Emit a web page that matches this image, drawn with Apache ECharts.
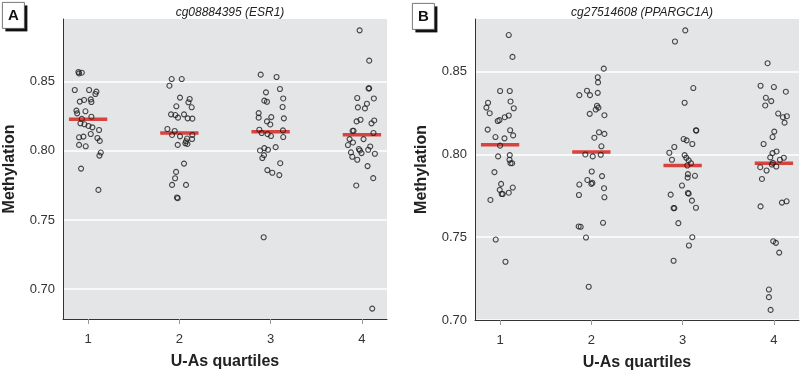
<!DOCTYPE html>
<html>
<head>
<meta charset="utf-8">
<script src="https://cdn.jsdelivr.net/npm/echarts@6/dist/echarts.min.js"></script>
<style>
html, body { margin: 0; padding: 0; background: #fff; }
#main { width: 800px; height: 372px; }
</style>
</head>
<body>
<div id="main"></div>
<script>
var FONT = "'Liberation Sans Narrow', 'Liberation Sans', Arial, sans-serif";

var quartiles = [1, 2, 3, 4];
var yTicks = [0.70, 0.75, 0.80, 0.85];

/* panel A: cg08884395 (ESR1) -- methylation values and horizontal jitter per quartile */
var esrQ1 = [0.857, 0.856, 0.8565, 0.844, 0.844, 0.8428, 0.8411, 0.8368, 0.8356, 0.8372, 0.8353, 0.8291, 0.8271, 0.8286, 0.8247, 0.8231,
	0.8199, 0.8192, 0.818, 0.817, 0.8151, 0.8122, 0.8098, 0.8103, 0.8093, 0.8072, 0.8043, 0.8033, 0.7988, 0.7966, 0.7872, 0.7718];
var esrQ1Jit = [-0.106, -0.099, -0.069, -0.146, 0.011, 0.091, 0.080, -0.044, -0.091, 0.029, 0.036, -0.128, -0.120, -0.029, 0.036, -0.069,
	-0.084, -0.040, 0.004, 0.047, 0.120, 0.029, -0.099, -0.051, 0.102, 0.128, -0.099, -0.026, 0.139, 0.124, -0.077, 0.113];
var esrQ2 = [0.8519, 0.8519, 0.8471, 0.8385, 0.8375, 0.8351, 0.8322, 0.8315, 0.8264, 0.8259, 0.824, 0.8264, 0.8235, 0.8233, 0.8158, 0.8144,
	0.8115, 0.8105, 0.8115, 0.8089, 0.8086, 0.8069, 0.8055, 0.805, 0.8043, 0.7908, 0.7848, 0.7802, 0.7754, 0.7754, 0.7663, 0.7658];
var esrQ2Jit = [-0.084, 0.026, -0.109, 0.007, 0.113, 0.099, -0.033, 0.135, -0.091, -0.044, -0.015, 0.051, 0.091, 0.142, -0.131, -0.051,
	-0.080, 0.007, 0.142, 0.084, 0.139, 0.073, 0.066, 0.088, -0.018, 0.051, -0.036, -0.047, -0.080, 0.073, -0.026, -0.018];
var esrQ3 = [0.8551, 0.8534, 0.8447, 0.8423, 0.8363, 0.8355, 0.8379, 0.8317, 0.8273, 0.824, 0.8244, 0.8235, 0.8213, 0.8191, 0.8153, 0.8148,
	0.8129, 0.8121, 0.8107, 0.81, 0.8027, 0.802, 0.8008, 0.8003, 0.7969, 0.7948, 0.7911, 0.7861, 0.7842, 0.7825, 0.7376];
var esrQ3Jit = [-0.109, 0.065, 0.102, -0.051, -0.069, -0.040, 0.138, 0.131, -0.131, -0.131, 0.007, 0.145, -0.040, -0.004, -0.124, 0.135,
	-0.098, -0.033, 0.004, 0.138, 0.055, -0.069, -0.029, -0.116, -0.073, -0.091, 0.105, -0.036, 0.018, 0.095, -0.076];
var esrQ4 = [0.8871, 0.8652, 0.8452, 0.8452, 0.8382, 0.8379, 0.8314, 0.8307, 0.8341, 0.8213, 0.8225, 0.822, 0.8199, 0.8145, 0.8145, 0.8129,
	0.8085, 0.8085, 0.8042, 0.8061, 0.8013, 0.8003, 0.8032, 0.8008, 0.7989, 0.7984, 0.7979, 0.7957, 0.7936, 0.789, 0.7803, 0.775, 0.686];
var esrQ4Jit = [-0.025, 0.080, 0.073, 0.080, -0.051, 0.131, -0.044, 0.033, 0.055, -0.058, -0.015, 0.135, 0.105, -0.102, -0.091, 0.127,
	-0.135, 0.018, -0.153, -0.098, -0.033, -0.022, 0.091, 0.069, -0.120, -0.004, 0.142, -0.105, -0.051, 0.062, 0.124, -0.062, 0.113];
var esrMeans = [0.8228, 0.8129, 0.8138, 0.8117];

/* panel B: cg27514608 (PPARGC1A) */
var pgcQ1 = [0.8721, 0.8589, 0.8383, 0.8383, 0.8312, 0.8283, 0.8249, 0.832, 0.8279, 0.8225, 0.8235, 0.8202, 0.8207, 0.815, 0.8146, 0.8115,
	0.8105, 0.8097, 0.8053, 0.7988, 0.7996, 0.7968, 0.7947, 0.7947, 0.7893, 0.7822, 0.7786, 0.7761, 0.7761, 0.7769, 0.78, 0.7725, 0.7486, 0.7352];
var pgcQ1Jit = [0.095, 0.136, 0.0, 0.106, -0.132, -0.150, -0.114, 0.114, 0.150, 0.051, 0.095, -0.026, -0.007, -0.136, 0.110, 0.143,
	-0.051, 0.048, 0.0, -0.022, 0.106, 0.103, 0.114, 0.132, -0.062, 0.011, -0.004, 0.018, 0.029, 0.095, 0.139, -0.106, -0.048, 0.059];
var pgcQ2 = [0.8518, 0.8466, 0.8435, 0.8385, 0.8358, 0.8358, 0.8372, 0.8294, 0.8283, 0.8271, 0.8245, 0.8237, 0.8134, 0.8124, 0.8101, 0.8049,
	0.80, 0.7988, 0.7998, 0.7897, 0.7869, 0.7846, 0.7822, 0.7828, 0.7818, 0.7796, 0.7755, 0.7741, 0.7565, 0.7563, 0.7587, 0.7498, 0.7201];
var pgcQ2Jit = [0.136, 0.070, 0.073, -0.048, -0.132, -0.015, 0.070, 0.062, 0.077, 0.048, -0.018, 0.143, 0.084, 0.143, 0.033, 0.110,
	-0.066, 0.015, 0.103, 0.004, 0.117, -0.044, 0.0, 0.011, -0.132, 0.139, -0.136, 0.143, -0.139, -0.117, 0.128, -0.059, -0.029];
var pgcQ3 = [0.8749, 0.8682, 0.8401, 0.8312, 0.8144, 0.8146, 0.8093, 0.8085, 0.8045, 0.8063, 0.801, 0.7996, 0.798, 0.7964, 0.7947, 0.7968,
	0.7933, 0.7881, 0.786, 0.7871, 0.7812, 0.7767, 0.7763, 0.7757, 0.7721, 0.7676, 0.7676, 0.7678, 0.7585, 0.75, 0.745, 0.7358];
var pgcQ3Jit = [0.029, -0.084, 0.117, 0.022, 0.150, 0.146, 0.011, 0.044, -0.091, 0.106, -0.146, 0.022, 0.040, 0.066, 0.091, -0.117,
	0.051, 0.058, 0.055, 0.135, -0.007, 0.058, 0.066, -0.131, 0.102, -0.099, -0.091, 0.146, -0.047, 0.106, 0.069, -0.099];
var pgcQ4 = [0.8551, 0.8415, 0.8407, 0.8379, 0.8342, 0.8322, 0.8296, 0.8247, 0.8225, 0.8231, 0.8192, 0.8138, 0.8105, 0.8063, 0.8008, 0.8018,
	0.7982, 0.7968, 0.798, 0.7949, 0.7923, 0.7903, 0.7927, 0.7939, 0.7852, 0.7686, 0.7709, 0.7717, 0.7476, 0.7466, 0.7407, 0.7184, 0.7138, 0.7061];
var pgcQ4Jit = [-0.069, -0.146, 0.0, 0.131, -0.088, -0.029, -0.095, 0.047, 0.099, 0.142, 0.117, 0.004, -0.015, -0.113, -0.015, 0.029,
	-0.040, 0.066, 0.109, -0.011, -0.150, -0.080, 0.026, -0.022, -0.131, -0.146, 0.088, 0.139, -0.007, 0.022, 0.058, -0.055, -0.055, -0.036];
var pgcMeans = [0.8059, 0.8014, 0.7933, 0.7947];

var myChart = echarts.init(document.getElementById('main'), null, { renderer: 'canvas' });

// jittered points: x = quartile + jitter
function points(vals, jit, q) {
	var out = [];
	for (var i = 0; i < vals.length; i++) {
		out.push([q + (jit[i] || 0), vals[i]]);
	}
	return out;
}

function meanBars(means, idx) {
	return {
		type: 'custom',
		xAxisIndex: idx,
		yAxisIndex: idx,
		z: 3,
		silent: true,
		data: means.map(function (m, i) { return [quartiles[i], m]; }),
		renderItem: function (params, api) {
			var q = api.value(0), m = api.value(1);
			var p1 = api.coord([q - 0.21, m]);
			var p2 = api.coord([q + 0.21, m]);
			return {
				type: 'line',
				shape: { x1: p1[0], y1: p1[1], x2: p2[0], y2: p2[1] },
				style: { stroke: '#d8433f', lineWidth: 3.5 }
			};
		}
	};
}

function scatterSeries(data, idx) {
	return {
		type: 'scatter',
		xAxisIndex: idx,
		yAxisIndex: idx,
		z: 4,
		symbol: 'circle',
		symbolSize: 5,
		itemStyle: { color: 'rgba(0,0,0,0)', borderColor: '#1e1e1e', borderWidth: 1.1 },
		data: data
	};
}

function xAxisCfg(idx) {
	return {
		type: 'value',
		gridIndex: idx,
		min: 0.725,
		max: 4.275,
		name: 'U-As quartiles',
		nameLocation: 'middle',
		nameGap: 35,
		nameTextStyle: { fontFamily: FONT, fontWeight: 'bold', fontSize: 16, color: '#222' },
		axisLine: { show: true, lineStyle: { color: '#333', width: 1 } },
		axisTick: { show: true, customValues: quartiles, length: 5, lineStyle: { color: '#999' } },
		axisLabel: { customValues: quartiles, margin: 14, fontFamily: FONT, fontSize: 13, color: '#333' },
		splitLine: { show: false }
	};
}

function yAxisCfg(idx, min, max) {
	return {
		type: 'value',
		gridIndex: idx,
		min: min,
		max: max,
		name: 'Methylation',
		nameLocation: 'middle',
		nameGap: 45,
		nameTextStyle: { fontFamily: FONT, fontWeight: 'bold', fontSize: 16, color: '#222' },
		axisLine: { show: true, lineStyle: { color: '#333', width: 1 } },
		axisTick: { show: false, customValues: yTicks },
		axisLabel: {
			customValues: yTicks, margin: 8, fontFamily: FONT, fontSize: 13, color: '#333',
			formatter: function (v) { return v.toFixed(2); }
		},
		splitLine: { show: true, lineStyle: { color: '#ffffff', width: 1.5 } }
	};
}

function letterBox(letter, x, y) {
	return {
		type: 'group',
		left: x,
		top: y,
		children: [
			{ type: 'rect', shape: { x: 3, y: 3, width: 22, height: 26 }, style: { fill: '#111' } },
			{ type: 'rect', shape: { x: 0, y: 0, width: 22, height: 26 }, style: { fill: '#fff', stroke: '#555', lineWidth: 0.8 } },
			{ type: 'text', x: 11, y: 13, style: { text: letter, fontFamily: FONT, fontWeight: 'bold', fontSize: 15, fill: '#111', align: 'center', verticalAlign: 'middle' } }
		]
	};
}

var option = {
	animation: false,
	backgroundColor: '#fff',
	title: [
		{ text: 'cg08884395 (ESR1)', left: 225, top: 2, textAlign: 'center',
			textStyle: { fontFamily: FONT, fontStyle: 'italic', fontWeight: 'normal', fontSize: 12, color: '#222' } },
		{ text: 'cg27514608 (PPARGC1A)', left: 637, top: 2, textAlign: 'center',
			textStyle: { fontFamily: FONT, fontStyle: 'italic', fontWeight: 'normal', fontSize: 12, color: '#222' } }
	],
	grid: [
		{ left: 63, top: 19, width: 324, height: 300, show: true, backgroundColor: '#e4e5e7', borderWidth: 0, outerBoundsMode: 'none' },
		{ left: 475, top: 19, width: 324, height: 301, show: true, backgroundColor: '#e4e5e7', borderWidth: 0, outerBoundsMode: 'none' }
	],
	xAxis: [xAxisCfg(0), xAxisCfg(1)],
	yAxis: [yAxisCfg(0, 0.6785, 0.8953), yAxisCfg(1, 0.70, 0.8818)],
	graphic: [letterBox('A', 2, 2), letterBox('B', 412, 3)],
	series: [
		meanBars(esrMeans, 0),
		scatterSeries(points(esrQ1, esrQ1Jit, 1), 0),
		scatterSeries(points(esrQ2, esrQ2Jit, 2), 0),
		scatterSeries(points(esrQ3, esrQ3Jit, 3), 0),
		scatterSeries(points(esrQ4, esrQ4Jit, 4), 0),
		meanBars(pgcMeans, 1),
		scatterSeries(points(pgcQ1, pgcQ1Jit, 1), 1),
		scatterSeries(points(pgcQ2, pgcQ2Jit, 2), 1),
		scatterSeries(points(pgcQ3, pgcQ3Jit, 3), 1),
		scatterSeries(points(pgcQ4, pgcQ4Jit, 4), 1)
	]
};

myChart.setOption(option);
</script>
</body>
</html>
